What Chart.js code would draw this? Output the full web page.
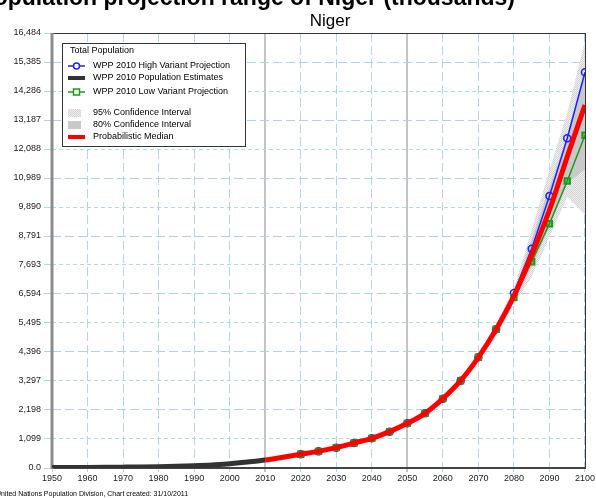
<!DOCTYPE html>
<html>
<head>
<meta charset="utf-8">
<script src="https://cdn.jsdelivr.net/npm/chart.js@4.4.0/dist/chart.umd.min.js"></script>
<style>
  html, body { margin: 0; padding: 0; background: #fff; }
  #chart { display: block; }
</style>
</head>
<body>
<canvas id="chart" width="596" height="498"></canvas>
<script>
// values
const estYears = [1950, 1955, 1960, 1965, 1970, 1975, 1980, 1985, 1990, 1995, 2000, 2005, 2010];
const estValues = [15, 18, 22, 27, 33, 40, 50, 65, 85, 115, 165, 225, 300];

const medianYears = [2010, 2015, 2020, 2025, 2030, 2035, 2040, 2045, 2050, 2055, 2060, 2065, 2070, 2075, 2080, 2085, 2090, 2095, 2100];
const medianValues = [300, 405, 519, 630, 770, 947, 1124, 1377, 1693, 2072, 2627, 3308, 4195, 5256, 6520, 8071, 9777, 11797, 13755];

const projYears = [2020, 2025, 2030, 2035, 2040, 2045, 2050, 2055, 2060, 2065, 2070, 2075, 2080, 2085, 2090, 2095, 2100];
const highValues = [519, 630, 770, 947, 1124, 1377, 1693, 2072, 2627, 3308, 4195, 5256, 6631, 8311, 10307, 12493, 14994];
const lowValues = [519, 630, 770, 947, 1124, 1377, 1693, 2072, 2627, 3308, 4195, 5256, 6454, 7818, 9258, 10875, 12607];

const ciYears = [2010, 2020, 2030, 2040, 2050, 2055, 2060, 2065, 2070, 2075, 2080, 2085, 2090, 2095, 2100];
const ci95Low = [300, 515, 762, 1110, 1670, 2040, 2575, 3230, 4080, 5050, 6200, 7240, 8750, 10270, 9600];
const ci95High = [300, 523, 778, 1138, 1716, 2104, 2680, 3390, 4310, 5460, 6820, 9020, 11290, 13450, 16200];
const ci80Low = [300, 517, 766, 1117, 1682, 2056, 2600, 3268, 4130, 5150, 6350, 7620, 9130, 10800, 11300];
const ci80High = [300, 521, 774, 1131, 1704, 2088, 2654, 3348, 4250, 5350, 6670, 8640, 10650, 12540, 14900];

const yTickLabels = ["0.0", "1,099", "2,198", "3,297", "4,396", "5,495", "6,594", "7,693", "8,791", "9,890", "10,989", "12,088", "13,187", "14,286", "15,385", "16,484"];
const yMax = 16484;

const pts = (xs, ys) => xs.map((x, i) => ({ x: x, y: ys[i] }));

// stipple pattern for the 95% band
function makePattern() {
  const c = document.createElement("canvas");
  c.width = 2; c.height = 2;
  const g = c.getContext("2d");
  g.fillStyle = "#f0f0f0";
  g.fillRect(0, 0, 2, 2);
  g.fillStyle = "#d2d2d2";
  g.fillRect(0, 0, 1, 1);
  g.fillRect(1, 1, 1, 1);
  return document.getElementById("chart").getContext("2d").createPattern(c, "repeat");
}
const stipple = makePattern();

const framePlugin = {
  id: "frame",
  beforeDatasetsDraw(chart) {
    const a = chart.chartArea, ctx = chart.ctx;
    ctx.save();
    ctx.strokeStyle = "#333";
    ctx.lineWidth = 1;
    ctx.strokeRect(a.left + 0.5, a.top + 0.5, a.right - a.left, a.bottom - a.top);
    ctx.strokeStyle = "#444";
    ctx.lineWidth = 2;
    ctx.beginPath();
    ctx.moveTo(a.left, a.bottom); ctx.lineTo(a.right, a.bottom);
    ctx.stroke();
    ctx.strokeStyle = "#8c8c8c";
    ctx.lineWidth = 3;
    ctx.beginPath();
    ctx.moveTo(a.left, a.top); ctx.lineTo(a.left, a.bottom + 1);
    ctx.stroke();
    ctx.restore();
  }
};

const textPlugin = {
  id: "texts",
  afterDraw(chart) {
    const ctx = chart.ctx;
    ctx.save();
    // big title, cut by the top edge
    ctx.fillStyle = "#000";
    ctx.font = "bold 23px 'Liberation Sans', Arial, sans-serif";
    ctx.textBaseline = "alphabetic";
    ctx.textAlign = "right";
    ctx.fillText("Population projection range of Niger (thousands)", 515, 5);
    // subtitle
    ctx.font = "17px 'Liberation Sans', Arial, sans-serif";
    ctx.textAlign = "center";
    ctx.fillText("Niger", 330, 26);
    // footer
    ctx.font = "7px 'Liberation Sans', Arial, sans-serif";
    ctx.textAlign = "left";
    ctx.fillText("United Nations Population Division, Chart created: 31/10/2011", -4, 496);

    // legend box
    const bx = 62, by = 43, bw = 183, bh = 103;
    ctx.fillStyle = "#fff";
    ctx.fillRect(bx, by, bw, bh);
    ctx.strokeStyle = "#333";
    ctx.lineWidth = 1;
    ctx.strokeRect(bx + 0.5, by + 0.5, bw, bh);
    ctx.font = "9px 'Liberation Sans', Arial, sans-serif";
    ctx.textBaseline = "middle";
    ctx.fillStyle = "#000";
    ctx.fillText("Total Population", 70, 51);
    const tx = 93;
    const rows = [
      { y: 66, kind: "high", text: "WPP 2010 High Variant Projection" },
      { y: 78, kind: "est", text: "WPP 2010 Population Estimates" },
      { y: 92, kind: "low", text: "WPP 2010 Low Variant Projection" },
      { y: 113, kind: "ci95", text: "95% Confidence Interval" },
      { y: 125, kind: "ci80", text: "80% Confidence Interval" },
      { y: 137, kind: "med", text: "Probabilistic Median" }
    ];
    rows.forEach(r => {
      const x0 = 68, x1 = 85;
      if (r.kind === "high" || r.kind === "low") {
        const col = r.kind === "high" ? "#2020ff" : "#1c9a1c";
        ctx.strokeStyle = col;
        ctx.lineWidth = 1.5;
        ctx.beginPath(); ctx.moveTo(x0, r.y); ctx.lineTo(x1, r.y); ctx.stroke();
        ctx.beginPath();
        if (r.kind === "high") ctx.arc(76.5, r.y, 3, 0, Math.PI * 2);
        else ctx.rect(73.5, r.y - 3, 6, 6);
        ctx.fillStyle = "#fff"; ctx.fill(); ctx.stroke();
      } else if (r.kind === "est") {
        ctx.fillStyle = "#333";
        ctx.fillRect(x0, r.y - 2, x1 - x0, 4);
      } else if (r.kind === "ci95") {
        ctx.fillStyle = stipple;
        ctx.fillRect(x0, r.y - 4, 13, 8);
      } else if (r.kind === "ci80") {
        ctx.fillStyle = "#c9c9c9";
        ctx.fillRect(x0, r.y - 4, 13, 8);
      } else {
        ctx.fillStyle = "#ff0000";
        ctx.fillRect(x0, r.y - 2, x1 - x0, 4);
      }
      ctx.fillStyle = "#000";
      ctx.fillText(r.text, tx, r.y);
    });
    ctx.restore();
  }
};

const tickFont = { family: "'Liberation Sans', Arial, sans-serif", size: 9 };

new Chart(document.getElementById("chart"), {
  type: "line",
  data: {
    datasets: [
      { label: "95% upper", data: pts(ciYears, ci95High), borderWidth: 0, pointRadius: 0,
        fill: "+1", backgroundColor: stipple, order: 10 },
      { label: "95% lower", data: pts(ciYears, ci95Low), borderWidth: 0, pointRadius: 0,
        fill: false, order: 10 },
      { label: "80% upper", data: pts(ciYears, ci80High), borderWidth: 0, pointRadius: 0,
        fill: "+1", backgroundColor: "#c9c9c9", order: 9 },
      { label: "80% lower", data: pts(ciYears, ci80Low), borderWidth: 0, pointRadius: 0,
        fill: false, order: 9 },
      { label: "High", data: pts(projYears, highValues), borderColor: "#2020ff", borderWidth: 1.5,
        pointStyle: "circle", pointRadius: 3.5, pointBorderWidth: 1.5, pointBorderColor: "#2020ff",
        pointBackgroundColor: "rgba(255,255,255,0)", fill: false, order: 5 },
      { label: "Low", data: pts(projYears, lowValues), borderColor: "#1c9a1c", borderWidth: 1.5,
        pointStyle: "rect", pointRadius: 3.8, pointBorderWidth: 2, pointBorderColor: "#1c9a1c",
        pointBackgroundColor: "rgba(40,160,40,0.5)", fill: false, order: 4 },
      { label: "Median", data: pts(medianYears, medianValues), borderColor: "#ff0000", borderWidth: 5,
        pointRadius: 0, cubicInterpolationMode: "monotone", fill: false, order: 2 },
      { label: "Estimates", data: pts(estYears, estValues), borderColor: "#333", borderWidth: 5,
        pointRadius: 0, cubicInterpolationMode: "monotone", fill: false, order: 1 }
    ]
  },
  options: {
    responsive: false,
    animation: false,
    devicePixelRatio: 1,
    layout: { padding: { top: 33, right: 9, left: 0, bottom: 0 } },
    plugins: {
      legend: { display: false },
      tooltip: { enabled: false },
      title: { display: false }
    },
    scales: {
      x: {
        type: "linear",
        min: 1950,
        max: 2100,
        afterFit(s) { s.height = 30; },
        ticks: {
          stepSize: 10, autoSkip: false, maxRotation: 0, padding: 1,
          color: "#222", font: tickFont,
          callback: v => String(v)
        },
        grid: {
          tickLength: 4,
          color: c => (c.tick && (c.tick.value === 2010 || c.tick.value === 2050)) ? "#c4c4c4" : "#b3d5ea",
          lineWidth: c => (c.tick && (c.tick.value === 2010 || c.tick.value === 2050)) ? 2 : 1
        },
        border: {
          display: false,
          dash: c => (c.tick && (c.tick.value === 2010 || c.tick.value === 2050)) ? [] : [9, 4]
        }
      },
      y: {
        type: "linear",
        min: 0,
        max: yMax,
        afterFit(s) { s.width = 52; },
        afterBuildTicks(s) {
          s.ticks = yTickLabels.map(l => ({ value: Number(l.replace(/,/g, "")) }));
        },
        ticks: {
          autoSkip: false, padding: 3, color: "#222", font: tickFont,
          callback: (v, i) => yTickLabels[i]
        },
        grid: {
          tickLength: 8,
          color: c => (c.index % 2 === 0) ? "#aed2ea" : "#a6dfdf"
        },
        border: {
          display: false,
          dash: c => (c.index % 2 === 0) ? [9, 4] : [4, 3]
        }
      }
    }
  },
  plugins: [framePlugin, textPlugin]
});
</script>
</body>
</html>
